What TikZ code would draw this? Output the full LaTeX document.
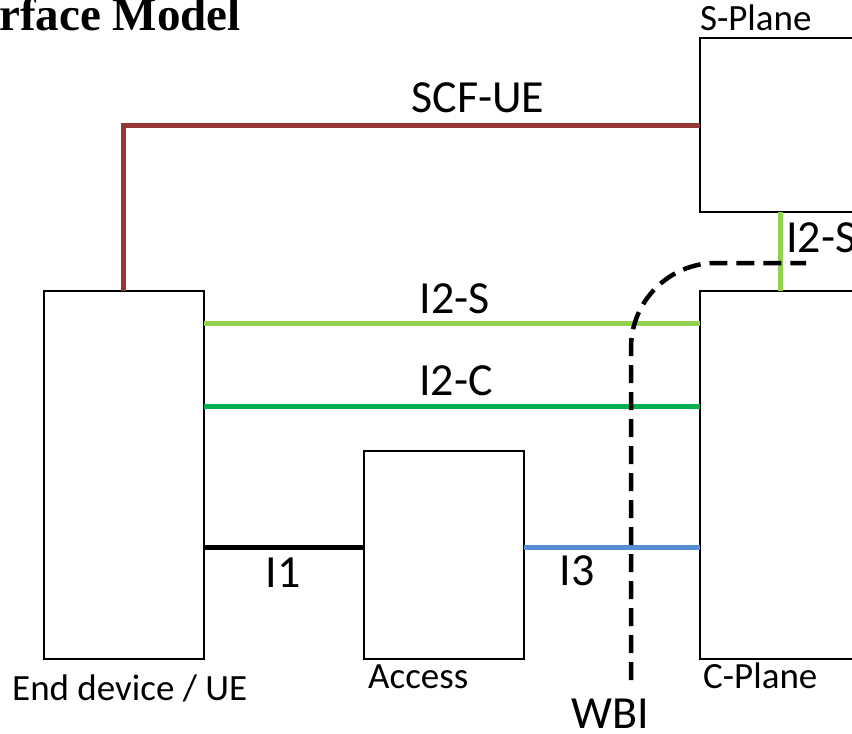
\documentclass[tikz,border=0pt]{standalone}
\usepackage{fontspec}
\setmainfont{Carlito}
\newfontfamily\titlefont{Liberation Serif}
\begin{document}
\begin{tikzpicture}[x=1pt,y=-1pt,
  box/.style={draw=black,line width=2.4pt},
  conn/.style={line width=5pt},
  biglbl/.style={font=\fontsize{46}{50}\selectfont,inner sep=0pt},
  smalllbl/.style={font=\fontsize{37}{40}\selectfont,inner sep=0pt},
  titlelbl/.style={font=\titlefont\bfseries\fontsize{47}{50}\selectfont,inner sep=0pt}]
\definecolor{scfred}{HTML}{953735}
\definecolor{ltgreen}{HTML}{92D050}
\definecolor{dkgreen}{HTML}{00B050}
\definecolor{iblue}{HTML}{558ED5}
\useasboundingbox (0,0) rectangle (852,734);
\begin{scope}
\clip (0,0) rectangle (852,734);
% boxes
\draw[box] (44,291) rectangle (204,659);
\draw[box] (364,451) rectangle (524,659);
\draw[box] (870,291) -- (700,291) -- (700,659) -- (870,659);
\draw[box] (870,38) -- (700,38) -- (700,212) -- (870,212);
\coordinate (ueT) at (123,291);
\coordinate (spL) at (700,125);
\coordinate (ueR1) at (204,323);
\coordinate (cpL1) at (700,323);
\coordinate (ueR2) at (204,406);
\coordinate (cpL2) at (700,406);
\coordinate (ueR3) at (204,547);
\coordinate (acL) at (364,547);
\coordinate (acR) at (524,547);
\coordinate (cpL3) at (700,547);
\coordinate (spB) at (780,212);
\coordinate (cpT) at (780,291);
\coordinate (wbiB) at (631,680);
\coordinate (wbiE) at (806,263);
% connectors
\draw[conn,scfred] (ueT) |- (spL);
\draw[conn,ltgreen] (ueR1) -- (cpL1);
\draw[conn,dkgreen] (ueR2) -- (cpL2);
\draw[conn,black] (ueR3) -- (acL);
\draw[conn,iblue] (acR) -- (cpL3);
\draw[conn,ltgreen] (spB) -- (cpT);
\draw[line width=4.5pt,dash pattern=on 18pt off 9pt,rounded corners=85pt] (wbiB) -- (631,263) -- (wbiE);
% labels
\node[titlelbl,anchor=base west] (title) at (-1,30) {rface Model};
\node[biglbl,anchor=base] (lscf) at (478,112) {SCF-UE};
\node[biglbl,anchor=base] (li2s) at (455,313) {I2-S};
\node[biglbl,anchor=base] (li2c) at (456,395) {I2-C};
\node[biglbl,anchor=base] (li1) at (283,587) {I1};
\node[biglbl,anchor=base] (li3) at (577,585) {I3};
\node[biglbl,anchor=base] (lwbi) at (610,728) {WBI};
\node[biglbl,anchor=base west] (li2sr) at (786,252) {I2-S};
\node[smalllbl,anchor=base west] (lsp) at (700,30) {S-Plane};
\node[smalllbl,anchor=base west] (lcp) at (703,688) {C-Plane};
\node[smalllbl,anchor=base west] (lac) at (368,688) {Access};
\node[smalllbl,anchor=base west] (lue) at (12,700) {End device / UE};
\end{scope}
\end{tikzpicture}
\end{document}
